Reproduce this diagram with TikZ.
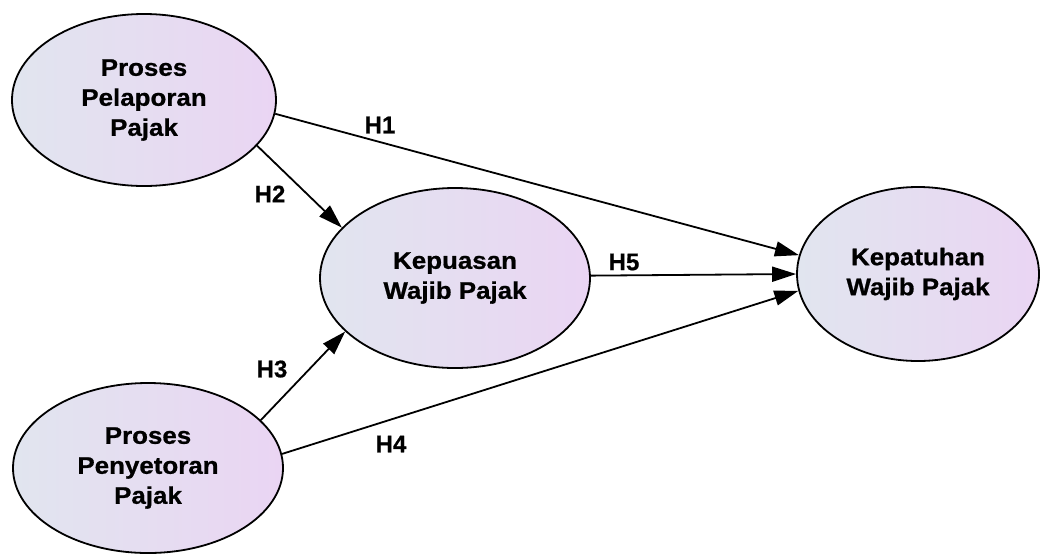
\documentclass[tikz,border=0pt]{standalone}
\usepackage{fontspec}
\setmainfont{Liberation Sans}
\newfontfamily\nodefont[FakeStretch=1.08,FakeBold=0.8]{Liberation Sans}
\newfontfamily\labfont[FakeBold=0.8]{Liberation Sans}
\usetikzlibrary{shapes.geometric,arrows.meta}
\definecolor{lc}{RGB}{225,229,239}
\definecolor{rc}{RGB}{234,213,243}
\tikzset{
  construct/.style={ellipse, draw=black, line width=1.8pt, left color=lc, right color=rc,
    inner sep=0pt, align=center, font=\nodefont\fontsize{24}{30}\selectfont\bfseries},
  path/.style={line width=1.8pt, draw=black},
  arr/.style={path, -{Triangle[length=24pt,width=15pt]}},
  hlab/.style={font=\labfont\fontsize{24}{28}\selectfont\bfseries, inner sep=0pt}
}
\begin{document}
\begin{tikzpicture}[x=1pt,y=-1pt]
\useasboundingbox (0,0) rectangle (1043,555);
\node[construct, minimum width=264pt, minimum height=172pt] (ppp) at (144,100) {Proses\\Pelaporan\\Pajak};
\node[construct, minimum width=270pt, minimum height=180pt] (kwp) at (455,278) {Kepuasan\\Wajib Pajak};
\node[construct, minimum width=242pt, minimum height=174pt] (kep) at (918,274) {Kepatuhan\\Wajib Pajak};
\node[construct, minimum width=270pt, minimum height=170pt] (pyp) at (148,468) {Proses\\Penyetoran\\Pajak};

\draw[arr] (ppp.-6.5) -- (kep.171.9);
\draw[arr] (ppp.-22.5) -- (kwp.156.1);
\draw[arr] (pyp.23.2) -- (kwp.206.6);
\draw[arr] (pyp.6.5) -- (kep.188.5);
\draw[arr] (kwp.1) -- (kep.180);

\node[hlab] (h1) at (380,125) {H1};
\node[hlab] (h2) at (270,194) {H2};
\node[hlab] (h3) at (272,369) {H3};
\node[hlab] (h4) at (391,444) {H4};
\node[hlab] (h5) at (624,262) {H5};
\end{tikzpicture}
\end{document}
